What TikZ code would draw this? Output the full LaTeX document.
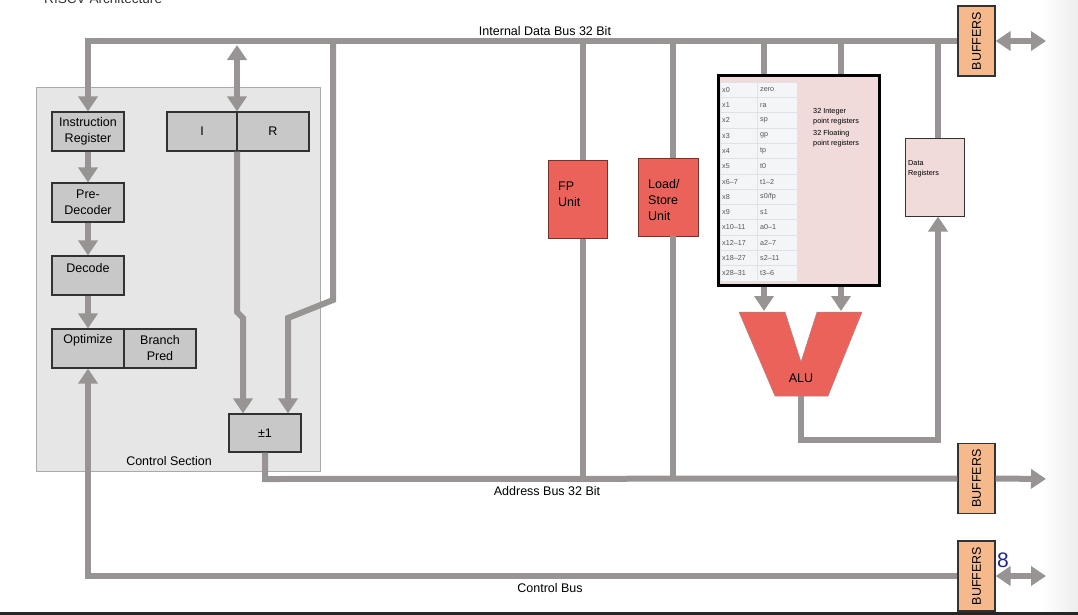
\documentclass[tikz,border=0pt]{standalone}
\usepackage{fontspec}
\setmainfont{Liberation Sans}
\usetikzlibrary{arrows.meta}
\definecolor{busgray}{RGB}{152,148,148}
\definecolor{boxgray}{RGB}{200,200,200}
\definecolor{boxline}{RGB}{50,50,50}
\definecolor{ctrlfill}{RGB}{230,230,230}
\definecolor{ctrlline}{RGB}{170,170,170}
\definecolor{unitred}{RGB}{234,98,90}
\definecolor{redline}{RGB}{120,50,45}
\definecolor{regpink}{RGB}{240,218,218}
\definecolor{buforange}{RGB}{245,185,140}
\definecolor{cellfill}{RGB}{243,245,247}
\definecolor{cellline}{RGB}{222,225,229}
\definecolor{celltext}{RGB}{85,85,85}
\definecolor{slidenum}{RGB}{30,40,130}
\newcommand\labfnt{\fontsize{12.5}{16}\selectfont}
\newcommand\tinyfnt{\fontsize{7.3}{10.5}\selectfont}
\newcommand\cellfnt{\fontsize{7.2}{8}\selectfont}
\begin{document}
\begin{tikzpicture}[x=1pt,y=-1pt,
  bus/.style={draw=busgray,line width=6pt},
  arr/.style={bus,-{Triangle[width=19pt,length=15pt]}},
  darr/.style={bus,{Triangle[width=19pt,length=15pt]}-{Triangle[width=19pt,length=15pt]}},
  gbox/.style={draw=boxline,fill=boxgray,line width=1.2pt,inner sep=0pt,minimum height=39pt,align=center,font=\labfnt},
  redbox/.style={draw=redline,fill=unitred,line width=0.8pt,inner sep=0pt},
  buf/.style={draw=boxline,fill=buforange,line width=1.2pt,minimum width=37pt,minimum height=70pt,inner sep=0pt},
  txt/.style={font=\labfnt,inner sep=0pt},
  celltxt/.style={font=\cellfnt,text=celltext,inner sep=0pt,anchor=west},
]
\useasboundingbox (0,0) rectangle (1078,614);
% right edge shade
\shade[left color=white,right color=black!7] (1040,0) rectangle (1078,612);
% bottom bar
\fill[black!85] (0,611.5) rectangle (1078,614.5);
% title (cut off at the top, as in the slide)
\node[txt,anchor=base west,font=\fontsize{13.6}{16}\selectfont,text=black!80] (title) at (44,3) {RISCV Architecture};

% control section
\node[draw=ctrlline,fill=ctrlfill,line width=0.8pt,minimum width=284pt,minimum height=384pt,inner sep=0pt] (cs) at (178,279) {};
\node[txt] (cslab) at (169,461) {Control Section};

% coordinates
\coordinate (cTL) at (88,41);
\coordinate (jIR) at (237,45);
\coordinate (jPC) at (333,41);
\coordinate (bPC1) at (333,300);
\coordinate (bPC2) at (288,318);
\coordinate (bIR1) at (237,312);
\coordinate (bIR2) at (243,318);
\coordinate (jFP) at (583,41);
\coordinate (aFP) at (583,479);
\coordinate (jLS) at (673,41);
\coordinate (aLS) at (673,479);
\coordinate (jR1) at (764,41);
\coordinate (jR2) at (841,41);
\coordinate (jDR) at (938,41);
\coordinate (aPC) at (265,479);
\coordinate (cBL) at (88,576);
\coordinate (aluL) at (764,311);
\coordinate (aluR) at (841,311);
\coordinate (aluO) at (801,396);
\coordinate (aluB) at (801,440);
\coordinate (aluC) at (938,440);
\coordinate (e1) at (1046,41);
\coordinate (e2) at (1046,479);
\coordinate (e3) at (1046,576);

% boxes (nodes)
\node[gbox,minimum width=72pt] (ir) at (88,131.5) {Instruction\\Register};
\node[gbox,minimum width=70pt] (rI) at (202,131.5) {I};
\node[gbox,minimum width=72pt] (rR) at (273,131.5) {R};
\node[gbox,minimum width=72pt] (pre) at (88,202.5) {Pre-\\Decoder};
\node[gbox,minimum width=72pt] (dec) at (88,275.5) {};
\node[txt] (dect) at (88,268) {Decode};
\node[gbox,minimum width=72pt] (opt) at (88,348.5) {};
\node[txt] (optt) at (88,340) {Optimize};
\node[gbox,minimum width=72pt] (bp) at (160,348.5) {Branch\\Pred};
\node[gbox,minimum width=72pt,minimum height=38pt] (pm) at (265,433) {±1};

\node[redbox,minimum width=59pt,minimum height=78pt] (fp) at (577.5,199.5) {};
\node[txt,anchor=west,align=left] (fpt) at (558,194) {FP\\Unit};
\node[redbox,minimum width=60pt,minimum height=78pt] (ls) at (668,197) {};
\node[txt,anchor=west,align=left] (lst) at (648,200) {Load/\\Store\\Unit};

\node[buf] (buf1) at (976.5,41) {};
\node[txt,rotate=90] (buf1t) at (976.5,41) {BUFFERS};
\node[buf] (buf2) at (976.5,478.5) {};
\node[txt,rotate=90] (buf2t) at (976.5,478.5) {BUFFERS};
\node[buf] (buf3) at (976.5,576) {};
\node[txt,rotate=90] (buf3t) at (976.5,576) {BUFFERS};

\node[draw=boxline,fill=regpink,line width=1pt,minimum width=59pt,minimum height=78pt,inner sep=0pt] (dreg) at (934.5,177) {};
\node[anchor=north west,align=left,font=\tinyfnt,inner sep=0pt] (dregt) at (908,160) {Data\\Registers};

% internal data bus
\draw[arr] (buf1.west) -- (cTL) -- (ir.north);
\draw[darr] (jIR) -- (237,0 |- rI.north);
\draw[arr] (237,0 |- rI.south) -- (bIR1) -- (bIR2) -- (243,0 |- pm.north);
\draw[arr] (jPC) -- (bPC1) -- (bPC2) -- (288,0 |- pm.north);
\draw[bus] (jFP) -- (583,0 |- fp.north);
\draw[bus] (583,0 |- fp.south) -- (aFP);
\draw[bus] (jLS) -- (673,0 |- ls.north);
\draw[bus] (673,0 |- ls.south) -- (aLS);
\draw[bus] (jDR) -- (938,0 |- dreg.north);
\draw[darr] (buf1.east) -- (e1);

% pipeline
\draw[arr] (ir.south) -- (pre.north);
\draw[arr] (pre.south) -- (dec.north);
\draw[arr] (dec.south) -- (opt.north);

% address bus
\draw[bus] (pm.south) -- (aPC) -- (buf2.west);
\draw[arr] (buf2.east) -- (e2);

% control bus
\draw[arr] (buf3.west) -- (cBL) -- (opt.south);
\draw[darr] (buf3.east) -- (e3);

% register file
\node[draw=black,fill=regpink,line width=3pt,minimum width=161pt,minimum height=210pt,inner sep=0pt] (regs) at (798.5,180) {};
\draw[bus] (jR1) -- (764,0 |- regs.north);
\draw[bus] (jR2) -- (841,0 |- regs.north);
\foreach \a/\b [count=\i from 0] in {x0/zero,x1/ra,x2/sp,x3/gp,x4/tp,x5/t0,x6–7/t1–2,x8/{s0/fp},x9/s1,x10–11/a0–1,x12–17/a2–7,x18–27/s2–11,x28–31/t3–6}{
  \pgfmathsetmacro\yt{82+\i*15.3}
  \draw[fill=cellfill,draw=cellline,line width=0.6pt] (720,\yt) rectangle (757.5,\yt+15.3);
  \draw[fill=cellfill,draw=cellline,line width=0.6pt] (757.5,\yt) rectangle (797,\yt+15.3);
  \node[celltxt] (ca\i) at (722,\yt+7.8) {\a};
  \node[celltxt] (cb\i) at (760,\yt+7.8) {\b};
}
\node[anchor=north west,align=left,font=\tinyfnt,inner sep=0pt] (int) at (813,108) {32 Integer\\point registers};
\node[anchor=north west,align=left,font=\tinyfnt,inner sep=0pt] (flt) at (813,130) {32 Floating\\point registers};

% ALU
\draw[arr] (764,0 |- regs.south) -- (aluL);
\draw[arr] (841,0 |- regs.south) -- (aluR);
\fill[unitred,draw=redline!60,line width=0.5pt] (739,312) -- (785,312) -- (801,362) -- (817,312) -- (862,312) -- (828,396) -- (775,396) -- cycle;
\node[txt] (alu) at (801,378) {ALU};
\draw[arr] (aluO) -- (aluB) -- (aluC) -- (dreg.south -| 938,0);

% bus labels
\node[txt] (l1) at (545,31) {Internal Data Bus 32 Bit};
\node[txt] (l2) at (547,491) {Address Bus 32 Bit};
\node[txt] (l3) at (550,588) {Control Bus};
\node[inner sep=0pt,font=\fontsize{21}{24}\selectfont,text=slidenum] (pg) at (1003,560) {8};
\end{tikzpicture}
\end{document}
